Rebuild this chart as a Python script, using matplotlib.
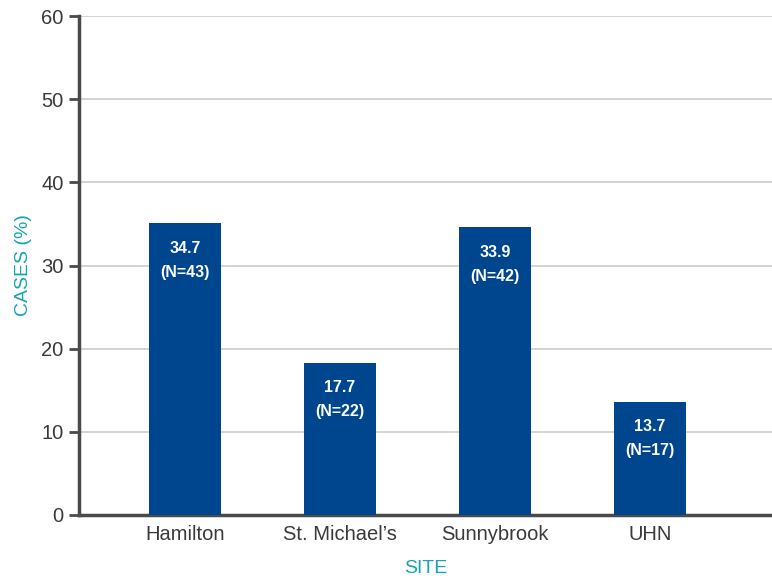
import numpy as np
import matplotlib.pyplot as plt

sites = ["Hamilton", "St. Michael\u2019s", "Sunnybrook", "UHN"]
bar_heights = [35.1, 18.3, 34.6, 13.6]
pct_labels = ["34.7", "17.7", "33.9", "13.7"]
n_labels = [43, 22, 42, 17]

bar_color = "#00468e"
teal = "#14a4b2"
dark = "#4a4a4a"

plt.rcParams['font.family'] = ['Liberation Sans', 'DejaVu Sans']

fig = plt.figure(figsize=(7.72, 5.83), dpi=100)
ax = fig.add_axes([79/772, 1 - 515/583, (772-79)/772, (515-16)/583])

x = np.arange(len(sites))
ax.bar(x, bar_heights, width=0.465, color=bar_color, zorder=3)

for xi, h, p, n in zip(x, bar_heights, pct_labels, n_labels):
    ax.annotate(p, (xi, h), xytext=(0, -25), textcoords="offset pixels",
                ha="center", va="center", color="white", fontsize=11.5,
                fontweight="bold", zorder=4)
    ax.annotate("(N={})".format(n), (xi, h), xytext=(0, -49), textcoords="offset pixels",
                ha="center", va="center", color="white", fontsize=11.5,
                fontweight="bold", zorder=4)

ax.set_xlim(-0.684, 3.787)
ax.set_ylim(0, 60)
ax.set_yticks(range(0, 61, 10))
ax.set_xticks(x)
ax.set_xticklabels(sites)
ax.yaxis.grid(True, color="#d0d0d0", linewidth=1.3, zorder=0)
ax.set_axisbelow(True)

for s in ["top", "right"]:
    ax.spines[s].set_visible(False)
for s in ["left", "bottom"]:
    ax.spines[s].set_color(dark)
    ax.spines[s].set_linewidth(2.5)

ax.tick_params(axis="y", direction="out", length=7, width=2, color=dark,
               labelsize=14.5, labelcolor="#3a3a3a", pad=4)
ax.tick_params(axis="x", length=0, labelsize=14.5, labelcolor="#3a3a3a", pad=7)

ax.set_ylabel("CASES (%)", color=teal, fontsize=14, labelpad=7)
ax.set_xlabel("SITE", color=teal, fontsize=14, labelpad=12)

fig.savefig("out.png", dpi=100)
